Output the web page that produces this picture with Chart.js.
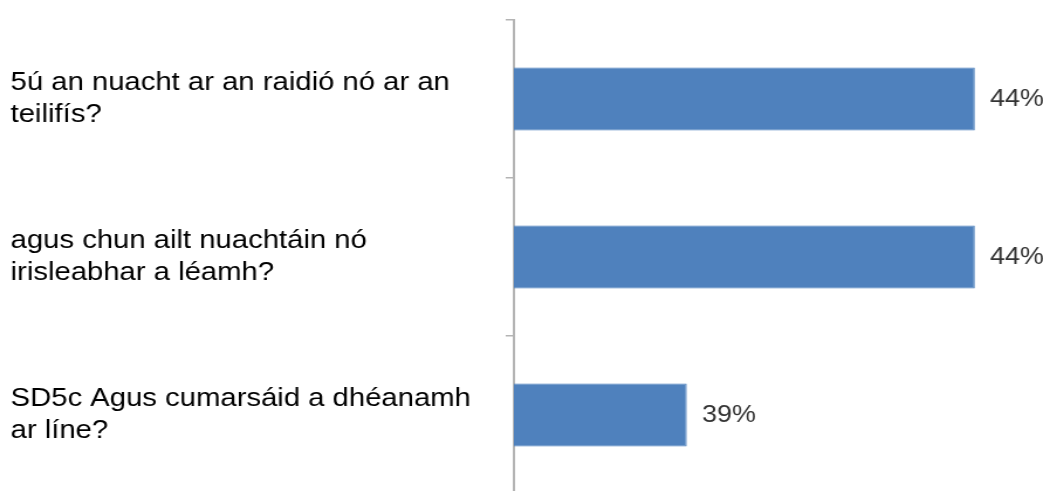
<!DOCTYPE html>
<html>
<head>
<meta charset="utf-8">
<script src="https://cdn.jsdelivr.net/npm/chart.js@4.4.1/dist/chart.umd.min.js"></script>
<style>
  html, body { margin: 0; padding: 0; background: #fff; }
  #wrap { width: 1043px; height: 491px; overflow: hidden; position: relative; }
  /* chart is drawn narrow then stretched sideways, like the exported slide */
  #box { position: absolute; left: 0; top: 0; width: 891px; height: 520px;
         transform: scaleX(1.1706); transform-origin: 0 0; }
</style>
</head>
<body>
<div id="wrap">
  <div id="box"><canvas id="digChart" width="891" height="520" style="width:891px;height:520px"></canvas></div>
</div>
<script>
const questions = [
  ['5ú an nuacht ar an raidió nó ar an', 'teilifís?'],
  ['agus chun ailt nuachtáin nó', 'irisleabhar a léamh?'],
  ['SD5c Agus cumarsáid a dhéanamh', 'ar líne?']
];
const shares = [44, 44, 39];
const axisMin = 36;
const axisMax = 45;

// percentage written just past the end of each bar
const barLabels = {
  id: 'barLabels',
  afterDatasetsDraw(chart) {
    const ctx = chart.ctx;
    const meta = chart.getDatasetMeta(0);
    ctx.save();
    ctx.font = '23px "Liberation Sans", Arial, sans-serif';
    ctx.fillStyle = '#333';
    ctx.textAlign = 'left';
    ctx.textBaseline = 'middle';
    meta.data.forEach((bar, i) => {
      ctx.fillText(shares[i] + '%', bar.x + 13, bar.y + 1);
    });
    ctx.restore();
  }
};

const digCtx = document.getElementById('digChart').getContext('2d');
new Chart(digCtx, {
  type: 'bar',
  data: {
    labels: questions,
    datasets: [{
      data: shares,
      backgroundColor: '#4f81bd',
      borderColor: '#4a7ebb',
      borderWidth: 1,
      barPercentage: 0.4,
      categoryPercentage: 1
    }]
  },
  options: {
    indexAxis: 'y',
    responsive: false,
    animation: false,
    layout: { padding: { left: 9, right: 9, top: 20, bottom: 26 } },
    plugins: { legend: { display: false }, tooltip: { enabled: false } },
    scales: {
      x: { display: false, min: axisMin, max: axisMax },
      y: {
        afterFit(scale) {
          scale.width = 430;
          scale.paddingTop = 0;
          scale.paddingBottom = 0;
        },
        border: { display: true, color: '#b4b4b4', width: 2 },
        grid: { drawOnChartArea: false, offset: true, tickLength: 7, color: '#b4b4b4', lineWidth: 1.5 },
        ticks: {
          crossAlign: 'far',
          color: '#000',
          font: { family: '"Liberation Sans", Arial, sans-serif', size: 25, lineHeight: 1.28 }
        }
      }
    }
  },
  plugins: [barLabels]
});
</script>
</body>
</html>
